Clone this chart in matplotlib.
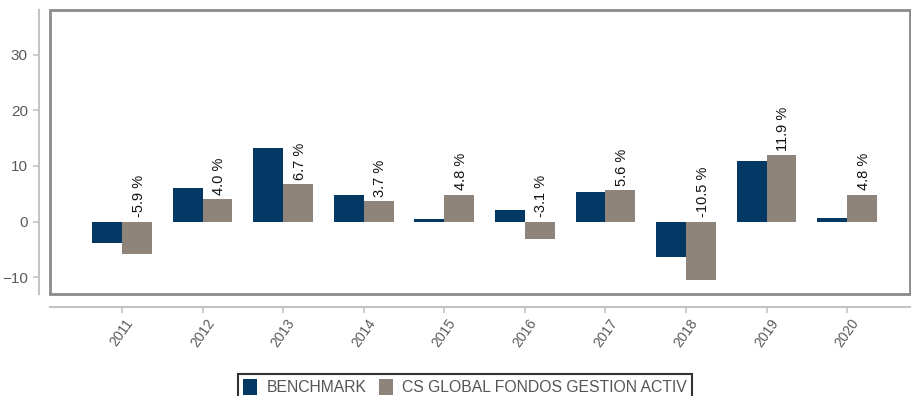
#!/usr/bin/env python3
"""Annual returns: benchmark vs fund, grouped bar chart."""

import matplotlib
matplotlib.use("Agg")
import matplotlib.pyplot as plt
from matplotlib.patches import Rectangle
import numpy as np

YEARS = ["2011", "2012", "2013", "2014", "2015",
         "2016", "2017", "2018", "2019", "2020"]
BENCHMARK = [-3.9, 6.1, 13.3, 4.7, 0.4, 2.1, 5.4, -6.3, 10.8, 0.6]
FUND = [-5.9, 4.0, 6.7, 3.7, 4.8, -3.1, 5.6, -10.5, 11.9, 4.8]
FUND_LABELS = ["-5.9 %", "4.0 %", "6.7 %", "3.7 %", "4.8 %",
               "-3.1 %", "5.6 %", "-10.5 %", "11.9 %", "4.8 %"]
SERIES = ["BENCHMARK", "CS GLOBAL FONDOS GESTION ACTIV"]

_color = {'bench': '#033764', 'fund': '#8e847a', 'frame': '#8a8a8a',
          'axis': '#c4c4c4', 'tick': '#5a5a5a'}

plt.rcParams['font.family'] = ['Liberation Sans', 'DejaVu Sans']


def main():
    W, H = 911, 396
    fig = plt.figure(figsize=(W / 100, H / 100), dpi=100)
    ax = fig.add_axes([50 / W, 1 - 294 / H, 860 / W, 284 / H])

    x = np.arange(len(YEARS))
    bw = 0.37
    ax.bar(x - bw / 2, BENCHMARK, bw, color=_color['bench'],
           label=SERIES[0], zorder=2)
    ax.bar(x + bw / 2, FUND, bw, color=_color['fund'],
           label=SERIES[1], zorder=2)

    # Value labels above the fund bars (or above zero when negative)
    for xi, v, lab in zip(x, FUND, FUND_LABELS):
        ax.text(xi + bw / 2 + 0.02, max(v, 0) + 0.8, lab, rotation=90,
                ha='center', va='bottom', fontsize=10.5, color='#111111')

    ax.set_xlim(-0.894, 9.78)
    ax.set_ylim(-13, 38)
    ax.set_yticks([-10, 0, 10, 20, 30])
    ax.set_xticks(x)
    ax.set_xticklabels(YEARS)

    # Axis lines offset from the plot frame
    for side in ('top', 'right'):
        ax.spines[side].set_visible(False)
    ax.spines['left'].set_position(('outward', 8))
    ax.spines['bottom'].set_position(('outward', 9))
    for side in ('left', 'bottom'):
        ax.spines[side].set_color(_color['axis'])
        ax.spines[side].set_linewidth(1.5)
    ax.tick_params(axis='both', colors=_color['axis'], length=4, width=1.2,
                   labelcolor=_color['tick'])
    ax.tick_params(axis='y', labelsize=11, pad=4)
    ax.tick_params(axis='x', labelsize=10, pad=3, labelrotation=55)
    for lab in ax.get_xticklabels():
        lab.set_ha('center')

    # Plot frame
    ax.add_patch(Rectangle((0, 0), 1, 1, transform=ax.transAxes, fill=False,
                           edgecolor=_color['frame'], linewidth=2,
                           clip_on=False, zorder=3))

    leg = fig.legend(loc='upper center', bbox_to_anchor=(465 / W, 1 - 366 / H),
                     ncol=2, fontsize=11.3, frameon=True, fancybox=False,
                     handlelength=0.9, handleheight=1.2, handletextpad=0.6,
                     columnspacing=0.8, borderpad=0.3, labelcolor='#555555')
    leg.get_frame().set_edgecolor('black')
    leg.get_frame().set_linewidth(1.5)

    fig.savefig("out.png", dpi=100)
    plt.close(fig)


if __name__ == '__main__':
    main()
